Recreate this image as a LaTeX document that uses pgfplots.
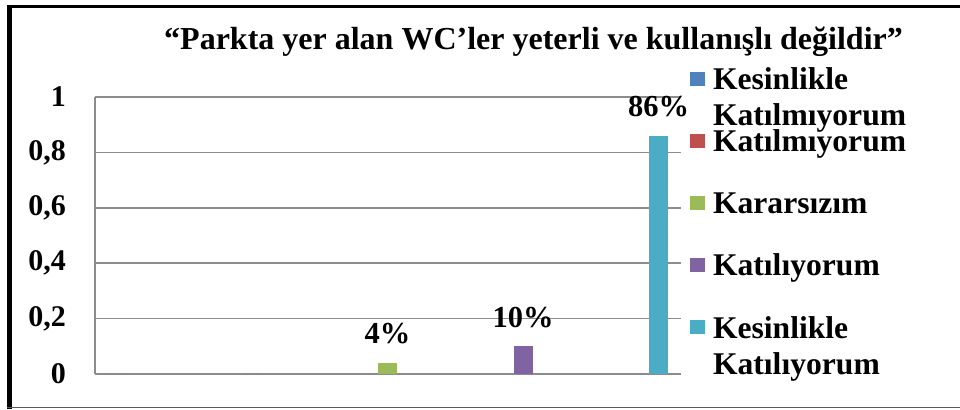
\documentclass[border=0pt]{standalone}
\usepackage{pgfplots}
\pgfplotsset{compat=1.18}
\usepackage{fontspec}
\setmainfont{Liberation Serif}
\definecolor{c1}{HTML}{4F81BD}
\definecolor{c2}{HTML}{C0504D}
\definecolor{c3}{HTML}{9BBB59}
\definecolor{c4}{HTML}{8064A2}
\definecolor{c5}{HTML}{4BACC6}
\definecolor{gridgray}{HTML}{8C8C8C}
\newcommand\lt[1]{\raisebox{0pt}[22bp][0pt]{\begin{tabular}[t]{@{}l@{}}#1\end{tabular}}}
\begin{document}
\begin{tikzpicture}[x=1bp,y=1bp]
\useasboundingbox (0,0) rectangle (960,409);
\fill[white] (0,0) rectangle (960,409);
\begin{axis}[
  at={(95bp,35bp)}, anchor=south west,
  width=586bp, height=277bp, scale only axis,
  xmin=-0.159, xmax=4.166, ymin=0, ymax=1,
  ytick={0,0.2,0.4,0.6,0.8,1},
  xtick=\empty,
  axis lines*=left,
  axis line style={gridgray, line width=1.5bp, -},
  ymajorgrids, grid style={gridgray, line width=1.5bp},
  major tick length=0pt,
  /pgf/number format/use comma,
  /pgf/number format/assume math mode=true,
  yticklabel style={font=\fontsize{30bp}{36bp}\selectfont\bfseries, inner sep=0pt, xshift=-29bp},
  ybar, bar width=19bp, bar shift=0pt,
  every node near coord/.append style={font=\fontsize{30.5bp}{36bp}\selectfont\bfseries, inner sep=0pt, yshift=19bp, text depth=0pt},
  legend style={at={(1.0154,1.1047)}, anchor=north west, draw=none, fill=none,
    inner sep=0pt, outer sep=0pt, row sep=40bp, column sep=8bp,
    font=\fontsize{31.6bp}{36bp}\selectfont\bfseries,
    nodes={inner sep=0pt, text depth=0pt}},
  legend cell align=left,
  legend image code/.code={\draw[#1,/tikz/.cd,draw=none] (0bp,-7bp) rectangle (15bp,7bp);},
]
\addplot[fill=c1, draw=none] coordinates {(0,0)};
\addlegendentry{\lt{Kesinlikle\\Katılmıyorum}}
\addplot[fill=c2, draw=none] coordinates {(1,0)};
\addlegendentry{\lt{Katılmıyorum}}
\addplot[fill=c3, draw=none, nodes near coords={4\%}] coordinates {(2,0.04)};
\addlegendentry{\lt{Kararsızım}}
\addplot[fill=c4, draw=none, nodes near coords={10\%}] coordinates {(3,0.10)};
\addlegendentry{\lt{Katılıyorum}}
\addplot[fill=c5, draw=none, nodes near coords={86\%}] coordinates {(4,0.86)};
\addlegendentry{\lt{Kesinlikle\\Katılıyorum}}
\end{axis}
\node[anchor=base, font=\fontsize{32bp}{38bp}\selectfont\bfseries, inner sep=0pt] at (533.5,360) {“Parkta yer alan WC’ler yeterli ve kullanışlı değildir”};
\fill[black] (6.7,400.7) rectangle (960,404.3);
\fill[black] (6.7,0) rectangle (12.3,404.3);
\fill[black!65] (6.7,0.6) rectangle (960,2.1);
\end{tikzpicture}
\end{document}
